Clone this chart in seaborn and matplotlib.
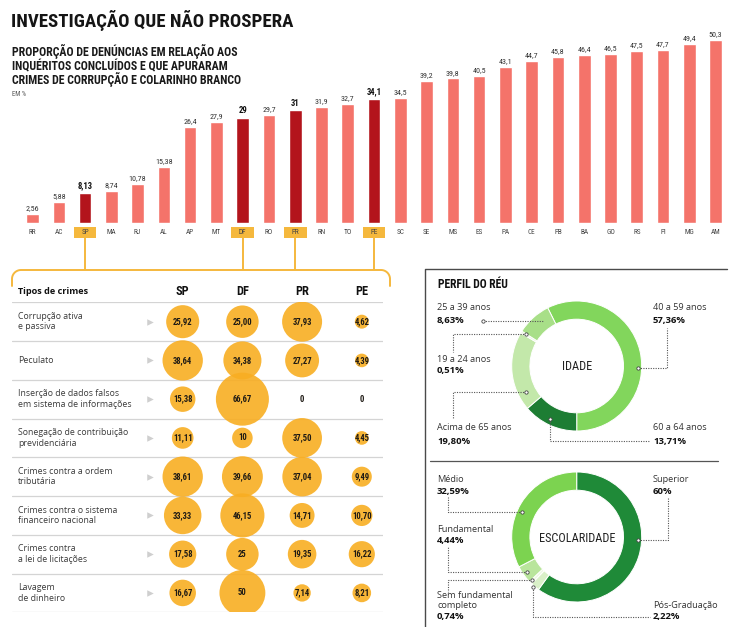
import numpy as np
import pandas as pd
import matplotlib
matplotlib.use("Agg")
import matplotlib.pyplot as plt
import seaborn as sns
from matplotlib import font_manager
from matplotlib.transforms import blended_transform_factory

# ---------------- data ----------------
states = ["RR", "AC", "SP", "MA", "RJ", "AL", "AP", "MT", "DF", "RO", "PR", "RN", "TO", "PE",
          "SC", "SE", "MS", "ES", "PA", "CE", "PB", "BA", "GO", "RS", "PI", "MG", "AM"]
rates = [2.56, 5.88, 8.13, 8.74, 10.78, 15.38, 26.4, 27.9, 29, 29.7, 31, 31.9, 32.7, 34.1,
         34.5, 39.2, 39.8, 40.5, 43.1, 44.7, 45.8, 46.4, 46.5, 47.5, 47.7, 49.4, 50.3]
highlight = ["SP", "DF", "PR", "PE"]

crimes = ["Corrupção ativa\ne passiva", "Peculato",
          "Inserção de dados falsos\nem sistema de informações",
          "Sonegação de contribuição\nprevidenciária",
          "Crimes contra a ordem\ntributária",
          "Crimes contra o sistema\nfinanceiro nacional",
          "Crimes contra\na lei de licitações", "Lavagem\nde dinheiro"]
crime_sp = ["25,92", "38,64", "15,38", "11,11", "38,61", "33,33", "17,58", "16,67"]
crime_df = ["25,00", "34,38", "66,67", "10", "39,66", "46,15", "25", "50"]
crime_pr = ["37,93", "27,27", "0", "37,50", "37,04", "14,71", "19,35", "7,14"]
crime_pe = ["4,62", "4,39", "0", "4,45", "9,49", "10,70", "16,22", "8,21"]

age_labels = ["40 a 59 anos", "60 a 64 anos", "Acima de 65 anos", "19 a 24 anos", "25 a 39 anos"]
age_pct = [57.36, 13.71, 19.80, 0.51, 8.63]
edu_labels = ["Superior", "Pós-Graduação", "Sem fundamental\ncompleto", "Fundamental", "Médio"]
edu_pct = [60, 2.22, 0.74, 4.44, 32.59]

# ---------------- fonts ----------------
names = {f.name for f in font_manager.fontManager.ttflist}
COND = "DejaVu Sans"
for cand in ["Roboto Condensed", "Liberation Sans Narrow", "Open Sans Condensed"]:
    if cand in names:
        COND = cand
        break
BODY = "Open Sans" if "Open Sans" in names else "DejaVu Sans"

sns.set_theme(style="white")
plt.rcParams["font.family"] = [BODY, "DejaVu Sans"]

W, H = 740, 627
fig = plt.figure(figsize=(W / 100, H / 100), dpi=100, facecolor="white")


def frac(left, top, right, bottom):
    return [left / W, (H - bottom) / H, (right - left) / W, (bottom - top) / H]


def fmt_num(v):
    return f"{v:g}".replace(".", ",")


def fmt_pct(v):
    return (f"{int(v)}" if float(v).is_integer() else f"{v:.2f}".replace(".", ",")) + "%"


# overlay axes in pixel coordinates for annotations
ov = fig.add_axes([0, 0, 1, 1], zorder=10)
ov.set_xlim(0, W)
ov.set_ylim(H, 0)
ov.axis("off")
ov.patch.set_alpha(0)

# ---------------- titles ----------------
ov.text(11, 26.7, "INVESTIGAÇÃO QUE NÃO PROSPERA", fontsize=13.6, fontweight="bold",
        family=COND, color="#151515", va="baseline")
sub = ["PROPORÇÃO DE DENÚNCIAS EM RELAÇÃO AOS",
       "INQUÉRITOS CONCLUÍDOS E QUE APURARAM",
       "CRIMES DE CORRUPÇÃO E COLARINHO BRANCO"]
for k, line in enumerate(sub):
    ov.text(12, 56 + 14.2 * k, line, fontsize=8.6, fontweight="bold", family=COND,
            color="#1a1a1a", va="baseline")
ov.text(12, 96, "EM %", fontsize=4.8, family=COND, color="#555555", va="baseline")

# ---------------- bar chart ----------------
bar_light = "#f4736a"
bar_dark = "#b3141c"
hl_yellow = "#f5b83d"
axb = fig.add_axes(frac(19.4, 23.3, 728.7, 223.0))
colors = [bar_dark if s in highlight else bar_light for s in states]
sns.barplot(x=states, y=rates, hue=states, palette=colors, legend=False, width=0.48,
            saturation=1, ax=axb)
axb.set_ylim(0, 55)
axb.set_xlim(-0.5, len(states) - 0.5)
for s in axb.spines.values():
    s.set_visible(False)
axb.set_yticks([])
axb.set_xticks(range(len(states)))
axb.set_xticklabels(states, fontsize=5.2, family=COND, color="#444444")
axb.tick_params(axis="x", length=0, pad=4.4)
axb.set_xlabel("")
axb.set_ylabel("")
axb.patch.set_alpha(0)
btr = blended_transform_factory(axb.transData, axb.transAxes)
for i, (s, v) in enumerate(zip(states, rates)):
    hl = s in highlight
    axb.annotate(fmt_num(v), (i, v), xytext=(0, 2), textcoords="offset points",
                 ha="center", va="bottom", fontsize=5.8 if not hl else 6.2,
                 fontweight="bold" if hl else "normal", family=COND,
                 color="#111111" if hl else "#333333")
    if hl:
        axb.add_patch(plt.Rectangle((i - 0.43, (223 - 238) / 199.7), 0.86, 11 / 199.7,
                                    transform=btr, clip_on=False, facecolor=hl_yellow,
                                    edgecolor="none", zorder=0.5))

# connectors from highlighted labels to the table bracket
to_px = ov.transData.inverted()
for s in highlight:
    i = states.index(s)
    x_px = to_px.transform(axb.transData.transform((i, 0)))[0]
    ov.plot([x_px, x_px], [238, 270], color=hl_yellow, lw=1.4, solid_capstyle="butt")
r = 9
t = np.linspace(np.pi, 1.5 * np.pi, 20)
lx = np.concatenate([[12], 12 + r + r * np.cos(t), [390 - r]])
ly = np.concatenate([[286], 270 + r + r * np.sin(t), [270]])
t2 = np.linspace(1.5 * np.pi, 2 * np.pi, 20)
lx = np.concatenate([lx, 390 - r + r * np.cos(t2), [390]])
ly = np.concatenate([ly, 270 + r + r * np.sin(t2), [286]])
ov.plot(lx, ly, color=hl_yellow, lw=1.4)

# ---------------- bubble table ----------------
axt = fig.add_axes(frac(12, 302.3, 383, 612.3))
axt.set_xlim(-2.859, 3.355)
axt.set_ylim(len(crimes) - 0.5, -0.5)
axt.axis("off")
axt.patch.set_alpha(0)
cols = {"SP": crime_sp, "DF": crime_df, "PR": crime_pr, "PE": crime_pe}
rows = []
for ci, (st, vals) in enumerate(cols.items()):
    for ri, lab in enumerate(vals):
        rows.append({"state": st, "col": ci, "row": ri, "label": lab,
                     "v": float(lab.replace(",", "."))})
df = pd.DataFrame(rows)
for k in range(len(crimes) + 1):
    axt.axhline(k - 0.5, color="#d4d4d4", lw=0.9, zorder=0)
sns.scatterplot(data=df, x="col", y="row", size="v", sizes=(0, 1457), size_norm=(0, 66.67),
                color="#f8ae22", alpha=0.9, edgecolor="none", linewidth=0, legend=False,
                ax=axt, zorder=3)
axt.set_xlim(-2.859, 3.355)
axt.set_ylim(len(crimes) - 0.5, -0.5)
for _, rw in df.iterrows():
    axt.text(rw["col"], rw["row"], rw["label"], ha="center", va="center", fontsize=6.2,
             fontweight="bold", family=COND, color="#1e1a14", zorder=4)
for ci, st in enumerate(cols):
    axt.text(ci, -0.774, st, ha="center", va="center", fontsize=8.8, fontweight="bold",
             family=COND, color="#111111", clip_on=False)
axt.text(-2.759, -0.774, "Tipos de crimes", ha="left", va="center", fontsize=6.6,
         fontweight="bold", color="#111111", clip_on=False)
for ri, c in enumerate(crimes):
    axt.text(-2.759, ri, c, ha="left", va="center", fontsize=6.3, color="#3a3a3a",
             linespacing=1.2)
axt.scatter([-0.548] * len(crimes), range(len(crimes)), marker=">", s=22, color="#cfcfcf",
            linewidths=0, zorder=2)

# ---------------- profile panel ----------------
ov.plot([425, 425, 727], [H, 269, 269], color="#4a4a4a", lw=1.0)
ov.plot([430, 718], [461, 461], color="#555555", lw=0.9)
ov.text(438, 285, "PERFIL DO RÉU", fontsize=8.4, fontweight="bold", family=COND,
        color="#111111", va="center")

age_colors = ["#82d65c", "#1d7d33", "#c3e8aa", "#e8f6dc", "#a8df88"]
edu_colors = ["#1f8a38", "#d9f0c8", "#eef8e4", "#b9e59c", "#7cd350"]


def donut(box, vals, cols_, start):
    ax = fig.add_axes(box)
    ax.pie(vals, colors=cols_, startangle=start, counterclock=False, radius=1,
           wedgeprops=dict(width=0.28, edgecolor="white", linewidth=0.7))
    ax.set_xlim(-1, 1)
    ax.set_ylim(-1, 1)
    ax.set_aspect("equal")
    return ax


donut(frac(511.7, 301, 641.7, 431), age_pct, age_colors, 116.5)
donut(frac(511.7, 472, 641.7, 602), edu_pct, edu_colors, 90)
ov.text(577, 367, "IDADE", fontsize=8.8, family=COND, color="#222222", ha="center",
        va="center")
ov.text(577, 539, "ESCOLARIDADE", fontsize=8.8, family=COND, color="#222222",
        ha="center", va="center")

age_pos = {"40 a 59 anos": (653, 307.7, 321, "left"),
           "60 a 64 anos": (653, 428, 441.7, "left"),
           "Acima de 65 anos": (437, 428, 441.7, "left"),
           "19 a 24 anos": (437, 359, 371, "left"),
           "25 a 39 anos": (437, 307.7, 321, "left")}
for lab, v in zip(age_labels, age_pct):
    x, yl, yv, al = age_pos[lab]
    ov.text(x, yl, lab, fontsize=6.6, color="#333333", va="center", ha=al)
    ov.text(x, yv, fmt_pct(v), fontsize=6.8, fontweight="bold", color="#111111",
            va="center", ha=al)

edu_pos = {"Superior": (653, 479, 491.7),
           "Pós-Graduação": (653, 605.7, 616.7),
           "Sem fundamental\ncompleto": (437, 600.7, 616.7),
           "Fundamental": (437, 529, 540.5),
           "Médio": (437, 479, 491.7)}
for lab, v in zip(edu_labels, edu_pct):
    x, yl, yv = edu_pos[lab]
    ov.text(x, yl, lab, fontsize=6.6, color="#333333", va="center", ha="left",
            linespacing=1.15)
    ov.text(x, yv, fmt_pct(v), fontsize=6.8, fontweight="bold", color="#111111",
            va="center", ha="left")

leaders = [
    [(483, 321), (543, 321)],
    [(526, 334), (453, 334), (453, 352)],
    [(526, 391.7), (453, 391.7), (453, 418)],
    [(638, 368), (667, 368), (667, 328)],
    [(550, 419), (550, 441), (649, 441)],
    [(521.7, 511.7), (448.3, 511.7), (448.3, 497)],
    [(526.7, 571.7), (448.3, 571.7), (448.3, 547)],
    [(531.7, 580), (448.3, 580), (448.3, 591.7)],
    [(638.3, 540), (668.3, 540), (668.3, 497)],
    [(533.3, 586.7), (533.3, 616.7), (650, 616.7)],
]
for pts in leaders:
    xs, ys = zip(*pts)
    ov.plot(xs, ys, color="#555555", lw=0.8, ls=(0, (1, 1.2)))
    ov.plot([xs[0]], [ys[0]], marker="o", ms=2.4, mfc="white", mec="#444444", mew=0.6)

fig.savefig("out.png", dpi=100, facecolor="white")
